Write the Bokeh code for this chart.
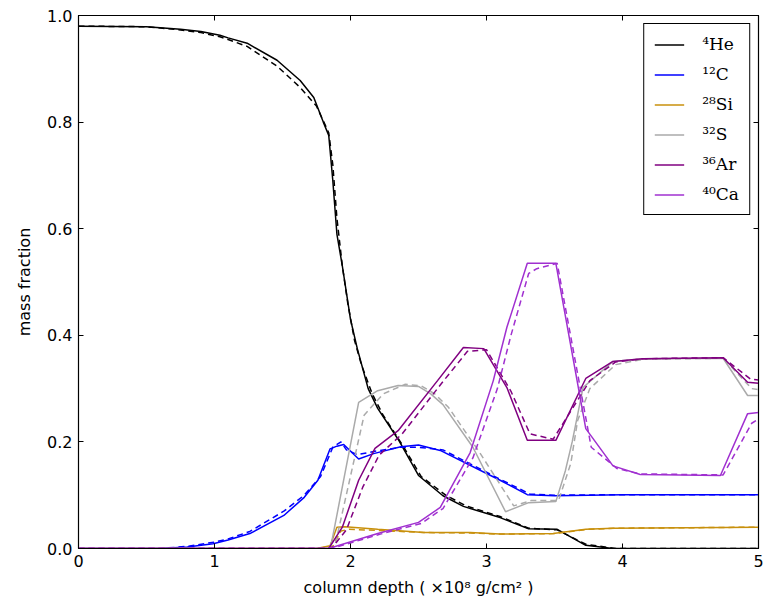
from bokeh.plotting import figure
from bokeh.models import (LinearAxis, FixedTicker, Legend, LegendItem, NumeralTickFormatter,
                          Range1d, CustomLabelingPolicy)
from bokeh.embed import file_html
from bokeh.resources import INLINE

# ---- data ----
he_x = [0, 0.5, 0.75, 0.9, 1.04, 1.1, 1.24, 1.46, 1.63, 1.73, 1.80, 1.84, 1.87, 1.90, 1.94, 2.0, 2.05, 2.13, 2.2, 2.35, 2.5, 2.68, 2.83, 3.1, 3.31, 3.52, 3.73, 3.93, 5.0]
he_y = [0.980, 0.979, 0.974, 0.970, 0.963, 0.958, 0.948, 0.916, 0.878, 0.846, 0.80, 0.775, 0.69, 0.59, 0.53, 0.43, 0.375, 0.30, 0.263, 0.205, 0.137, 0.099, 0.079, 0.058, 0.037, 0.036, 0.006, 0.0, 0.0]
he_xd = [0, 0.5, 0.75, 0.9, 1.04, 1.1, 1.24, 1.46, 1.63, 1.75, 1.84, 1.87, 1.90, 1.94, 1.98, 2.03, 2.08, 2.16, 2.24, 2.38, 2.52, 2.7, 2.85, 3.1, 3.31, 3.52, 3.73, 3.95, 5.0]
he_yd = [0.980, 0.979, 0.973, 0.968, 0.960, 0.955, 0.942, 0.905, 0.865, 0.83, 0.78, 0.72, 0.62, 0.53, 0.46, 0.39, 0.345, 0.29, 0.25, 0.195, 0.135, 0.10, 0.08, 0.06, 0.038, 0.035, 0.008, 0.0, 0.0]

c_x = [0, 0.6, 0.8, 0.99, 1.1, 1.26, 1.51, 1.66, 1.76, 1.85, 1.90, 1.95, 2.06, 2.17, 2.37, 2.5, 2.66, 3.1, 3.3, 3.5, 4.0, 5.0]
c_y = [0, 0.0, 0.003, 0.009, 0.016, 0.028, 0.062, 0.096, 0.128, 0.187, 0.192, 0.195, 0.168, 0.178, 0.191, 0.194, 0.184, 0.128, 0.101, 0.099, 0.101, 0.101]
c_xd = [0, 0.6, 0.8, 1.0, 1.1, 1.26, 1.51, 1.66, 1.78, 1.87, 1.93, 1.97, 2.05, 2.17, 2.37, 2.5, 2.68, 3.1, 3.32, 3.5, 4.0, 5.0]
c_yd = [0, 0.0, 0.004, 0.012, 0.018, 0.032, 0.07, 0.1, 0.135, 0.19, 0.2, 0.185, 0.176, 0.182, 0.19, 0.19, 0.185, 0.13, 0.102, 0.1, 0.101, 0.101]

si_x = [0, 1.75, 1.85, 1.9, 1.96, 2.2, 2.54, 2.88, 3.1, 3.49, 3.73, 3.93, 5.0]
si_y = [0, 0, 0.005, 0.04, 0.041, 0.036, 0.03, 0.03, 0.027, 0.028, 0.036, 0.038, 0.040]
si_xd = [0, 1.75, 1.87, 1.93, 1.99, 2.2, 2.54, 2.88, 3.1, 3.5, 3.75, 3.95, 5.0]
si_yd = [0, 0, 0.004, 0.033, 0.036, 0.034, 0.03, 0.029, 0.027, 0.028, 0.036, 0.038, 0.040]

s_x = [0, 1.84, 1.86, 2.06, 2.2, 2.35, 2.5, 2.59, 2.68, 2.9, 3.14, 3.31, 3.51, 3.58, 3.63, 3.71, 3.93, 4.15, 4.74, 4.92, 5.0]
s_y = [0, 0, 0.01, 0.274, 0.296, 0.306, 0.304, 0.29, 0.27, 0.19, 0.069, 0.086, 0.088, 0.146, 0.2, 0.302, 0.351, 0.356, 0.357, 0.287, 0.287]
s_xd = [0, 1.86, 1.89, 2.1, 2.24, 2.4, 2.52, 2.62, 2.72, 2.95, 3.2, 3.33, 3.53, 3.62, 3.67, 3.76, 3.95, 4.15, 4.74, 4.95, 5.0]
s_yd = [0, 0, 0.01, 0.25, 0.29, 0.308, 0.305, 0.29, 0.265, 0.18, 0.08, 0.09, 0.09, 0.16, 0.24, 0.3, 0.345, 0.355, 0.357, 0.3, 0.298]

ar_x = [0, 1.84, 1.94, 2.06, 2.18, 2.35, 2.64, 2.83, 2.98, 3.15, 3.30, 3.51, 3.73, 3.93, 4.15, 4.74, 4.92, 5.0]
ar_y = [0, 0, 0.04, 0.128, 0.188, 0.221, 0.315, 0.377, 0.375, 0.302, 0.203, 0.203, 0.319, 0.351, 0.356, 0.358, 0.312, 0.31]
ar_xd = [0, 1.86, 1.97, 2.09, 2.21, 2.38, 2.67, 2.86, 3.0, 3.18, 3.32, 3.49, 3.76, 3.95, 4.15, 4.74, 4.94, 5.0]
ar_yd = [0, 0, 0.035, 0.115, 0.175, 0.215, 0.31, 0.37, 0.373, 0.295, 0.215, 0.205, 0.315, 0.35, 0.356, 0.358, 0.318, 0.316]

ca_x = [0, 1.84, 2.2, 2.5, 2.66, 2.88, 3.05, 3.15, 3.30, 3.51, 3.73, 3.93, 4.13, 4.72, 4.92, 5.0]
ca_y = [0, 0, 0.028, 0.049, 0.077, 0.18, 0.315, 0.415, 0.535, 0.535, 0.225, 0.155, 0.139, 0.137, 0.253, 0.255]
ca_xd = [0, 1.86, 2.22, 2.52, 2.68, 2.9, 3.08, 3.18, 3.31, 3.37, 3.52, 3.77, 3.96, 4.13, 4.74, 4.95, 5.0]
ca_yd = [0, 0, 0.027, 0.047, 0.075, 0.17, 0.3, 0.4, 0.516, 0.525, 0.535, 0.19, 0.15, 0.14, 0.138, 0.235, 0.243]

labels = ["\u2074He", "\u00b9\u00b2C", "\u00b2\u2078Si", "\u00b3\u00b2S", "\u00b3\u2076Ar", "\u2074\u2070Ca"]
colors = ["#000000", "#0000ff", "#c8900c", "#aaaaaa", "#800080", "#a030d0"]
x_ticks = [0, 1, 2, 3, 4, 5]
y_ticks = [0.0, 0.2, 0.4, 0.6, 0.8, 1.0]

series = [
    (he_x, he_y, he_xd, he_yd),
    (c_x, c_y, c_xd, c_yd),
    (si_x, si_y, si_xd, si_yd),
    (s_x, s_y, s_xd, s_yd),
    (ar_x, ar_y, ar_xd, ar_yd),
    (ca_x, ca_y, ca_xd, ca_yd),
]

p = figure(width=765, height=613, output_backend="svg", toolbar_location=None,
           x_range=Range1d(0, 5), y_range=Range1d(0, 1),
           min_border_left=78, min_border_right=7, min_border_top=15, min_border_bottom=65)
p.xgrid.visible = False
p.ygrid.visible = False
p.background_fill_color = "white"
p.border_fill_color = "white"
p.outline_line_color = "black"
p.outline_line_width = 1.2

items = []
for (xs, ys, xd, yd), lab, col in zip(series, labels, colors):
    r = p.line(xs, ys, line_color=col, line_width=1.5)
    p.line(xd, yd, line_color=col, line_width=1.5, line_dash="6 4")
    items.append(LegendItem(label=lab, renderers=[r]))

FONT = "DejaVu Sans"
for ax in (p.xaxis[0], p.yaxis[0]):
    ax.major_tick_in = 5
    ax.major_tick_out = 0
    ax.minor_tick_line_color = None
    ax.axis_line_color = "black"
    ax.major_tick_line_color = "black"
    ax.major_label_text_font = FONT
    ax.major_label_text_font_size = "16px"
    ax.major_label_text_color = "black"
    ax.axis_label_text_font = FONT
    ax.axis_label_text_font_size = "16px"
    ax.axis_label_text_font_style = "normal"
    ax.axis_label_text_color = "black"
    ax.major_label_standoff = 6

p.xaxis[0].ticker = FixedTicker(ticks=x_ticks)
p.yaxis[0].ticker = FixedTicker(ticks=y_ticks)
p.yaxis[0].formatter = NumeralTickFormatter(format="0.0")
p.xaxis[0].axis_label = "column depth ( \u00d710\u2078 g/cm\u00b2 )"
p.yaxis[0].axis_label = "mass fraction"
p.xaxis[0].axis_label_standoff = 8
p.yaxis[0].axis_label_standoff = 10

no_labels_code = """
if (typeof indices.clear === 'function') { indices.clear(); return indices; }
for (const i of Array.from(indices.ones())) { indices.unset(i); }
return indices;
"""

top = LinearAxis(ticker=FixedTicker(ticks=x_ticks), major_tick_in=5, major_tick_out=0,
                 minor_tick_line_color=None, major_label_text_font_size="0px",
                 major_label_standoff=0, axis_line_color="black",
                 major_label_policy=CustomLabelingPolicy(code=no_labels_code))
right = LinearAxis(ticker=FixedTicker(ticks=y_ticks), major_tick_in=5, major_tick_out=0,
                   minor_tick_line_color=None, major_label_text_font_size="0px",
                   major_label_standoff=0, axis_line_color="black",
                   major_label_policy=CustomLabelingPolicy(code=no_labels_code))
p.add_layout(top, "above")
p.add_layout(right, "right")

legend = Legend(items=items, location="top_right")
legend.margin = 8
legend.padding = 10
legend.spacing = 10
legend.glyph_width = 30
legend.glyph_height = 19
legend.label_standoff = 18
legend.label_text_font = "DejaVu Serif"
legend.label_text_font_size = "17px"
legend.label_text_color = "black"
legend.border_line_color = "black"
legend.border_line_width = 1.2
legend.border_line_alpha = 1.0
legend.background_fill_alpha = 1.0
p.add_layout(legend)

open("out.html", "w").write(file_html(p, INLINE))
